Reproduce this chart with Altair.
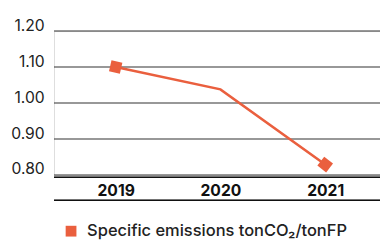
import altair as alt
import pandas as pd

years = ["2019", "2020", "2021"]
values = [1.10, 1.038, 0.829]
series = ["Specific emissions tonCO₂/tonFP"] * 3
y_ticks = [0.8, 0.9, 1.0, 1.1, 1.2]

df = pd.DataFrame({"year": years, "value": values, "series": series})
grid_df = pd.DataFrame({"value": y_ticks})

COLOR = "#EA5F3E"
FONT = "Inter"

x_enc = alt.X("year:O", scale=alt.Scale(type="point", range=[63, 277], padding=0),
              axis=alt.Axis(title=None, labelAngle=0, labelFont=FONT, labelFontSize=16,
                            labelFontWeight="bold", labelColor="#111", ticks=False,
                            domain=False, labelPadding=8, grid=False))
y_scale = alt.Scale(domain=[0.8, 1.2], nice=False, zero=False)
y_axis = alt.Axis(title=None, values=y_ticks, format=".2f", labelFont=FONT,
                  labelFontSize=16, labelColor="#222", ticks=False, domain=False,
                  labelPadding=10, labelBaseline="alphabetic", labelOffset=-1,
                  grid=False)
y_enc = alt.Y("value:Q", scale=y_scale, axis=y_axis)

base = alt.Chart(df)

grid = alt.Chart(grid_df).mark_rule(color="#333", strokeWidth=1.1).encode(
    x=alt.value(0), x2=alt.value(333), y=y_enc)

line = base.mark_line(color=COLOR, strokeWidth=2.6).encode(x=x_enc, y=y_enc)

pt1 = base.transform_filter(alt.datum.year == "2019").mark_point(
    shape="square", filled=True, size=130, opacity=1, angle=13).encode(
    x=x_enc, y=y_enc,
    color=alt.Color("series:N", scale=alt.Scale(range=[COLOR]),
                    legend=alt.Legend(title=None, orient="none", legendX=9, legendY=196,
                                      symbolType="square", symbolSize=121,
                                      symbolFillColor=COLOR, symbolStrokeWidth=0,
                                      labelFont=FONT, labelFontSize=16.8, labelFontWeight=500,
                                      labelColor="#222", labelOffset=8, labelLimit=400)))

pt2 = base.transform_filter(alt.datum.year == "2021").mark_point(
    shape="square", filled=True, size=130, opacity=1, angle=38).encode(
    x=x_enc, y=y_enc,
    color=alt.Color("series:N", scale=alt.Scale(range=[COLOR]), legend=None))

top_band_rule = base.mark_rule(color="#111", strokeWidth=1.2).encode(
    x=alt.value(0), x2=alt.value(333), y=alt.value(149.5))
bottom_rule = base.mark_rule(color="#111", strokeWidth=1.2).encode(
    x=alt.value(0), x2=alt.value(333), y=alt.value(173))

chart = alt.layer(grid, line, pt1, pt2, top_band_rule, bottom_rule).properties(
    width=333, height=147,
    autosize=alt.AutoSizeParams(type="none"),
    padding={"left": 47, "top": 21, "right": 0, "bottom": 71},
).configure_view(stroke=None).configure(background="white")

chart.save("out.html", embed_options={"renderer": "svg", "actions": False})
